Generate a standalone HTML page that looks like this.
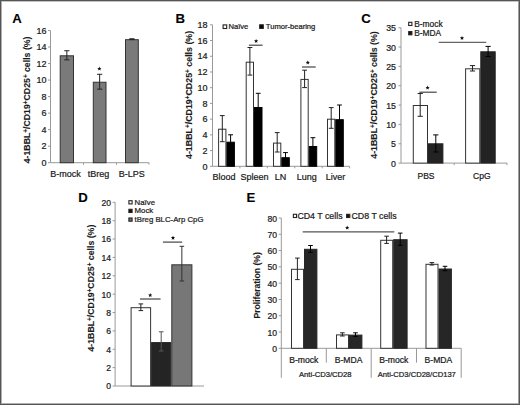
<!DOCTYPE html>
<html><head><meta charset="utf-8"><style>
html,body{margin:0;padding:0;background:#fff;}
body{width:520px;height:405px;overflow:hidden;}
svg{display:block;font-family:"Liberation Sans", sans-serif;}
text{stroke:#1a1a1a;stroke-width:0.22px;paint-order:stroke;}
text[font-weight="bold"]{stroke-width:0.1px;}
</style></head><body>
<svg width="520" height="405" viewBox="0 0 520 405">
<rect x="0" y="0" width="520" height="405" fill="#fff"/>
<text x="12.2" y="23" font-size="13.2" font-weight="bold" fill="#000">A</text>
<line x1="50.5" y1="30.5" x2="50.5" y2="162.7" stroke="#999" stroke-width="1"/>
<line x1="48" y1="162.7" x2="50.5" y2="162.7" stroke="#999" stroke-width="1"/>
<text x="46.6" y="165.94" font-size="9" text-anchor="end" fill="#1a1a1a">0</text>
<line x1="48" y1="146.17" x2="50.5" y2="146.17" stroke="#999" stroke-width="1"/>
<text x="46.6" y="149.41" font-size="9" text-anchor="end" fill="#1a1a1a">2</text>
<line x1="48" y1="129.65" x2="50.5" y2="129.65" stroke="#999" stroke-width="1"/>
<text x="46.6" y="132.89" font-size="9" text-anchor="end" fill="#1a1a1a">4</text>
<line x1="48" y1="113.12" x2="50.5" y2="113.12" stroke="#999" stroke-width="1"/>
<text x="46.6" y="116.36" font-size="9" text-anchor="end" fill="#1a1a1a">6</text>
<line x1="48" y1="96.6" x2="50.5" y2="96.6" stroke="#999" stroke-width="1"/>
<text x="46.6" y="99.84" font-size="9" text-anchor="end" fill="#1a1a1a">8</text>
<line x1="48" y1="80.07" x2="50.5" y2="80.07" stroke="#999" stroke-width="1"/>
<text x="46.6" y="83.31" font-size="9" text-anchor="end" fill="#1a1a1a">10</text>
<line x1="48" y1="63.55" x2="50.5" y2="63.55" stroke="#999" stroke-width="1"/>
<text x="46.6" y="66.79" font-size="9" text-anchor="end" fill="#1a1a1a">12</text>
<line x1="48" y1="47.03" x2="50.5" y2="47.03" stroke="#999" stroke-width="1"/>
<text x="46.6" y="50.27" font-size="9" text-anchor="end" fill="#1a1a1a">14</text>
<line x1="48" y1="30.5" x2="50.5" y2="30.5" stroke="#999" stroke-width="1"/>
<text x="46.6" y="33.74" font-size="9" text-anchor="end" fill="#1a1a1a">16</text>
<line x1="50.5" y1="162.7" x2="149" y2="162.7" stroke="#999" stroke-width="1"/>
<line x1="83.5" y1="162.7" x2="83.5" y2="164.7" stroke="#999" stroke-width="1"/>
<line x1="116.5" y1="162.7" x2="116.5" y2="164.7" stroke="#999" stroke-width="1"/>
<line x1="149" y1="162.7" x2="149" y2="164.7" stroke="#999" stroke-width="1"/>
<rect x="60.2" y="55.79" width="13.3" height="106.91" fill="#7a7a7a" stroke="#333" stroke-width="1"/>
<line x1="66.85" y1="50.74" x2="66.85" y2="59.83" stroke="#222" stroke-width="1"/>
<line x1="64.25" y1="50.74" x2="69.45" y2="50.74" stroke="#222" stroke-width="1"/>
<line x1="64.25" y1="59.83" x2="69.45" y2="59.83" stroke="#222" stroke-width="1"/>
<rect x="93.3" y="82.23" width="12.7" height="80.47" fill="#7a7a7a" stroke="#333" stroke-width="1"/>
<line x1="99.65" y1="74.29" x2="99.65" y2="89.16" stroke="#222" stroke-width="1"/>
<line x1="97.05" y1="74.29" x2="102.25" y2="74.29" stroke="#222" stroke-width="1"/>
<line x1="97.05" y1="89.16" x2="102.25" y2="89.16" stroke="#222" stroke-width="1"/>
<rect x="125.5" y="39.68" width="12.8" height="123.02" fill="#7a7a7a" stroke="#333" stroke-width="1"/>
<line x1="131.9" y1="38.76" x2="131.9" y2="39.59" stroke="#222" stroke-width="1"/>
<line x1="129.3" y1="38.76" x2="134.5" y2="38.76" stroke="#222" stroke-width="1"/>
<line x1="129.3" y1="39.59" x2="134.5" y2="39.59" stroke="#222" stroke-width="1"/>
<polygon points="99.40,66.60 99.98,68.00 101.49,68.12 100.34,69.11 100.69,70.58 99.40,69.79 98.11,70.58 98.46,69.11 97.31,68.12 98.82,68.00" fill="#111"/>
<text x="65.5" y="176.6" font-size="9" text-anchor="middle" fill="#1a1a1a">B-mock</text>
<text x="98.4" y="176.6" font-size="9" text-anchor="middle" fill="#1a1a1a">tBreg</text>
<text x="131.7" y="176.6" font-size="9" text-anchor="middle" fill="#1a1a1a">B-LPS</text>
<text x="30.2" y="99.9" font-size="8.75" font-weight="bold" text-anchor="middle" fill="#1a1a1a" transform="rotate(-90 30.2 99.9)">4-1BBL<tspan font-size="6.30" dy="-1.75">+</tspan><tspan dy="1.75">/CD19</tspan><tspan font-size="6.30" dy="-1.75">+</tspan><tspan dy="1.75">CD25</tspan><tspan font-size="6.30" dy="-1.75">+</tspan><tspan dy="1.75"> cells (%)</tspan></text>
<text x="175.6" y="22.9" font-size="13.2" font-weight="bold" fill="#000">B</text>
<line x1="212.5" y1="24.8" x2="212.5" y2="166.3" stroke="#999" stroke-width="1"/>
<line x1="210" y1="166.3" x2="212.5" y2="166.3" stroke="#999" stroke-width="1"/>
<text x="207.6" y="169.54" font-size="9" text-anchor="end" fill="#1a1a1a">0</text>
<line x1="210" y1="150.58" x2="212.5" y2="150.58" stroke="#999" stroke-width="1"/>
<text x="207.6" y="153.82" font-size="9" text-anchor="end" fill="#1a1a1a">2</text>
<line x1="210" y1="134.86" x2="212.5" y2="134.86" stroke="#999" stroke-width="1"/>
<text x="207.6" y="138.1" font-size="9" text-anchor="end" fill="#1a1a1a">4</text>
<line x1="210" y1="119.13" x2="212.5" y2="119.13" stroke="#999" stroke-width="1"/>
<text x="207.6" y="122.37" font-size="9" text-anchor="end" fill="#1a1a1a">6</text>
<line x1="210" y1="103.41" x2="212.5" y2="103.41" stroke="#999" stroke-width="1"/>
<text x="207.6" y="106.65" font-size="9" text-anchor="end" fill="#1a1a1a">8</text>
<line x1="210" y1="87.69" x2="212.5" y2="87.69" stroke="#999" stroke-width="1"/>
<text x="207.6" y="90.93" font-size="9" text-anchor="end" fill="#1a1a1a">10</text>
<line x1="210" y1="71.97" x2="212.5" y2="71.97" stroke="#999" stroke-width="1"/>
<text x="207.6" y="75.21" font-size="9" text-anchor="end" fill="#1a1a1a">12</text>
<line x1="210" y1="56.24" x2="212.5" y2="56.24" stroke="#999" stroke-width="1"/>
<text x="207.6" y="59.48" font-size="9" text-anchor="end" fill="#1a1a1a">14</text>
<line x1="210" y1="40.52" x2="212.5" y2="40.52" stroke="#999" stroke-width="1"/>
<text x="207.6" y="43.76" font-size="9" text-anchor="end" fill="#1a1a1a">16</text>
<line x1="210" y1="24.8" x2="212.5" y2="24.8" stroke="#999" stroke-width="1"/>
<text x="207.6" y="28.04" font-size="9" text-anchor="end" fill="#1a1a1a">18</text>
<line x1="212.5" y1="166.3" x2="349.6" y2="166.3" stroke="#999" stroke-width="1"/>
<line x1="239.92" y1="166.3" x2="239.92" y2="168.3" stroke="#999" stroke-width="1"/>
<line x1="267.34" y1="166.3" x2="267.34" y2="168.3" stroke="#999" stroke-width="1"/>
<line x1="294.76" y1="166.3" x2="294.76" y2="168.3" stroke="#999" stroke-width="1"/>
<line x1="322.18" y1="166.3" x2="322.18" y2="168.3" stroke="#999" stroke-width="1"/>
<line x1="349.6" y1="166.3" x2="349.6" y2="168.3" stroke="#999" stroke-width="1"/>
<rect x="218.6" y="129.2" width="7.3" height="37.1" fill="#fff" stroke="#333" stroke-width="1"/>
<rect x="226.9" y="142.2" width="7.5" height="24.1" fill="#000" stroke="#000" stroke-width="1"/>
<line x1="222.3" y1="115.6" x2="222.3" y2="141.7" stroke="#222" stroke-width="1"/>
<line x1="219.9" y1="115.6" x2="224.7" y2="115.6" stroke="#222" stroke-width="1"/>
<line x1="219.9" y1="141.7" x2="224.7" y2="141.7" stroke="#222" stroke-width="1"/>
<line x1="230.6" y1="134.8" x2="230.6" y2="148.6" stroke="#000" stroke-width="1"/>
<line x1="228.2" y1="134.8" x2="233" y2="134.8" stroke="#000" stroke-width="1"/>
<line x1="228.2" y1="148.6" x2="233" y2="148.6" stroke="#000" stroke-width="1"/>
<rect x="246.2" y="62.2" width="7.3" height="104.1" fill="#fff" stroke="#333" stroke-width="1"/>
<rect x="254.5" y="107.5" width="7.5" height="58.8" fill="#000" stroke="#000" stroke-width="1"/>
<line x1="249.9" y1="47.5" x2="249.9" y2="75.1" stroke="#222" stroke-width="1"/>
<line x1="247.5" y1="47.5" x2="252.3" y2="47.5" stroke="#222" stroke-width="1"/>
<line x1="247.5" y1="75.1" x2="252.3" y2="75.1" stroke="#222" stroke-width="1"/>
<line x1="258.2" y1="93.3" x2="258.2" y2="120.7" stroke="#000" stroke-width="1"/>
<line x1="255.8" y1="93.3" x2="260.6" y2="93.3" stroke="#000" stroke-width="1"/>
<line x1="255.8" y1="120.7" x2="260.6" y2="120.7" stroke="#000" stroke-width="1"/>
<rect x="273.5" y="143.1" width="7.3" height="23.2" fill="#fff" stroke="#333" stroke-width="1"/>
<rect x="281.8" y="157.7" width="7.5" height="8.6" fill="#000" stroke="#000" stroke-width="1"/>
<line x1="277.2" y1="132.6" x2="277.2" y2="152" stroke="#222" stroke-width="1"/>
<line x1="274.8" y1="132.6" x2="279.6" y2="132.6" stroke="#222" stroke-width="1"/>
<line x1="274.8" y1="152" x2="279.6" y2="152" stroke="#222" stroke-width="1"/>
<line x1="285.5" y1="152.6" x2="285.5" y2="161.8" stroke="#000" stroke-width="1"/>
<line x1="283.1" y1="152.6" x2="287.9" y2="152.6" stroke="#000" stroke-width="1"/>
<line x1="283.1" y1="161.8" x2="287.9" y2="161.8" stroke="#000" stroke-width="1"/>
<rect x="300.9" y="79.4" width="7.3" height="86.9" fill="#fff" stroke="#333" stroke-width="1"/>
<rect x="309.2" y="146.5" width="7.5" height="19.8" fill="#000" stroke="#000" stroke-width="1"/>
<line x1="304.6" y1="70.2" x2="304.6" y2="87.6" stroke="#222" stroke-width="1"/>
<line x1="302.2" y1="70.2" x2="307" y2="70.2" stroke="#222" stroke-width="1"/>
<line x1="302.2" y1="87.6" x2="307" y2="87.6" stroke="#222" stroke-width="1"/>
<line x1="312.9" y1="137.7" x2="312.9" y2="154.3" stroke="#000" stroke-width="1"/>
<line x1="310.5" y1="137.7" x2="315.3" y2="137.7" stroke="#000" stroke-width="1"/>
<line x1="310.5" y1="154.3" x2="315.3" y2="154.3" stroke="#000" stroke-width="1"/>
<rect x="327.5" y="119.2" width="7.3" height="47.1" fill="#fff" stroke="#333" stroke-width="1"/>
<rect x="335.8" y="119.7" width="7.5" height="46.6" fill="#000" stroke="#000" stroke-width="1"/>
<line x1="331.2" y1="107.6" x2="331.2" y2="128.3" stroke="#222" stroke-width="1"/>
<line x1="328.8" y1="107.6" x2="333.6" y2="107.6" stroke="#222" stroke-width="1"/>
<line x1="328.8" y1="128.3" x2="333.6" y2="128.3" stroke="#222" stroke-width="1"/>
<line x1="339.5" y1="105" x2="339.5" y2="133.4" stroke="#000" stroke-width="1"/>
<line x1="337.1" y1="105" x2="341.9" y2="105" stroke="#000" stroke-width="1"/>
<line x1="337.1" y1="133.4" x2="341.9" y2="133.4" stroke="#000" stroke-width="1"/>
<line x1="248.9" y1="45.2" x2="262.6" y2="45.2" stroke="#444" stroke-width="1.2"/>
<polygon points="256.10,38.90 256.68,40.30 258.19,40.42 257.04,41.41 257.39,42.88 256.10,42.09 254.81,42.88 255.16,41.41 254.01,40.42 255.52,40.30" fill="#111"/>
<line x1="302" y1="67" x2="315.7" y2="67" stroke="#444" stroke-width="1.2"/>
<polygon points="307.80,60.40 308.38,61.80 309.89,61.92 308.74,62.91 309.09,64.38 307.80,63.59 306.51,64.38 306.86,62.91 305.71,61.92 307.22,61.80" fill="#111"/>
<text x="223.9" y="180.2" font-size="9" text-anchor="middle" fill="#1a1a1a">Blood</text>
<text x="254.5" y="180.2" font-size="9" text-anchor="middle" fill="#1a1a1a">Spleen</text>
<text x="280.6" y="180.2" font-size="9" text-anchor="middle" fill="#1a1a1a">LN</text>
<text x="306.8" y="180.2" font-size="9" text-anchor="middle" fill="#1a1a1a">Lung</text>
<text x="335.4" y="180.2" font-size="9" text-anchor="middle" fill="#1a1a1a">Liver</text>
<rect x="223.1" y="24.9" width="3.6" height="3.6" fill="#fff" stroke="#222" stroke-width="1.1"/>
<text x="228.5" y="29.2" font-size="7.6" fill="#1a1a1a">Na&#239;ve</text>
<rect x="259.7" y="24.8" width="3.6" height="3.6" fill="#000" stroke="#222" stroke-width="1.1"/>
<text x="265.8" y="29.2" font-size="7.6" fill="#1a1a1a">Tumor-bearing</text>
<text x="191.8" y="94.9" font-size="8.85" font-weight="bold" text-anchor="middle" fill="#1a1a1a" transform="rotate(-90 191.8 94.9)">4-1BBL<tspan font-size="6.37" dy="-1.77">+</tspan><tspan dy="1.77">/CD19</tspan><tspan font-size="6.37" dy="-1.77">+</tspan><tspan dy="1.77">CD25</tspan><tspan font-size="6.37" dy="-1.77">+</tspan><tspan dy="1.77"> cells (%)</tspan></text>
<text x="361.2" y="23" font-size="13.2" font-weight="bold" fill="#000">C</text>
<line x1="401" y1="27.7" x2="401" y2="163.1" stroke="#999" stroke-width="1"/>
<line x1="398.5" y1="163.1" x2="401" y2="163.1" stroke="#999" stroke-width="1"/>
<text x="396" y="166.62" font-size="8.8" text-anchor="end" fill="#1a1a1a">0</text>
<line x1="398.5" y1="143.76" x2="401" y2="143.76" stroke="#999" stroke-width="1"/>
<text x="396" y="147.28" font-size="8.8" text-anchor="end" fill="#1a1a1a">5</text>
<line x1="398.5" y1="124.41" x2="401" y2="124.41" stroke="#999" stroke-width="1"/>
<text x="396" y="127.93" font-size="8.8" text-anchor="end" fill="#1a1a1a">10</text>
<line x1="398.5" y1="105.07" x2="401" y2="105.07" stroke="#999" stroke-width="1"/>
<text x="396" y="108.59" font-size="8.8" text-anchor="end" fill="#1a1a1a">15</text>
<line x1="398.5" y1="85.73" x2="401" y2="85.73" stroke="#999" stroke-width="1"/>
<text x="396" y="89.25" font-size="8.8" text-anchor="end" fill="#1a1a1a">20</text>
<line x1="398.5" y1="66.39" x2="401" y2="66.39" stroke="#999" stroke-width="1"/>
<text x="396" y="69.91" font-size="8.8" text-anchor="end" fill="#1a1a1a">25</text>
<line x1="398.5" y1="47.04" x2="401" y2="47.04" stroke="#999" stroke-width="1"/>
<text x="396" y="50.56" font-size="8.8" text-anchor="end" fill="#1a1a1a">30</text>
<line x1="398.5" y1="27.7" x2="401" y2="27.7" stroke="#999" stroke-width="1"/>
<text x="396" y="31.22" font-size="8.8" text-anchor="end" fill="#1a1a1a">35</text>
<line x1="401" y1="163.1" x2="507" y2="163.1" stroke="#999" stroke-width="1"/>
<line x1="454.2" y1="163.1" x2="454.2" y2="165.1" stroke="#999" stroke-width="1"/>
<line x1="507" y1="163.1" x2="507" y2="165.1" stroke="#999" stroke-width="1"/>
<rect x="413.3" y="105.5" width="14.2" height="57.6" fill="#fff" stroke="#333" stroke-width="1"/>
<rect x="428.5" y="143.8" width="14.4" height="19.3" fill="#232323" stroke="#232323" stroke-width="1"/>
<line x1="420.2" y1="93.5" x2="420.2" y2="116.3" stroke="#222" stroke-width="1"/>
<line x1="417.6" y1="93.5" x2="422.8" y2="93.5" stroke="#222" stroke-width="1"/>
<line x1="417.6" y1="116.3" x2="422.8" y2="116.3" stroke="#222" stroke-width="1"/>
<line x1="435.8" y1="134.9" x2="435.8" y2="152" stroke="#000" stroke-width="1"/>
<line x1="433.2" y1="134.9" x2="438.4" y2="134.9" stroke="#000" stroke-width="1"/>
<line x1="433.2" y1="152" x2="438.4" y2="152" stroke="#000" stroke-width="1"/>
<rect x="465.6" y="68.8" width="14.2" height="94.3" fill="#fff" stroke="#333" stroke-width="1"/>
<rect x="480.8" y="51.8" width="14.4" height="111.3" fill="#232323" stroke="#232323" stroke-width="1"/>
<line x1="472.5" y1="65.6" x2="472.5" y2="71" stroke="#222" stroke-width="1"/>
<line x1="469.9" y1="65.6" x2="475.1" y2="65.6" stroke="#222" stroke-width="1"/>
<line x1="469.9" y1="71" x2="475.1" y2="71" stroke="#222" stroke-width="1"/>
<line x1="488.1" y1="46.4" x2="488.1" y2="56.6" stroke="#000" stroke-width="1"/>
<line x1="485.5" y1="46.4" x2="490.7" y2="46.4" stroke="#000" stroke-width="1"/>
<line x1="485.5" y1="56.6" x2="490.7" y2="56.6" stroke="#000" stroke-width="1"/>
<line x1="419.4" y1="92.2" x2="436.7" y2="92.2" stroke="#444" stroke-width="1.2"/>
<polygon points="427.60,85.60 428.18,87.00 429.69,87.12 428.54,88.11 428.89,89.58 427.60,88.79 426.31,89.58 426.66,88.11 425.51,87.12 427.02,87.00" fill="#111"/>
<line x1="438.7" y1="42.4" x2="486.3" y2="42.4" stroke="#666" stroke-width="1.3"/>
<polygon points="462.00,35.90 462.58,37.30 464.09,37.42 462.94,38.41 463.29,39.88 462.00,39.09 460.71,39.88 461.06,38.41 459.91,37.42 461.42,37.30" fill="#111"/>
<text x="426" y="178.6" font-size="8.5" text-anchor="middle" fill="#1a1a1a">PBS</text>
<text x="481.8" y="178.6" font-size="8.5" text-anchor="middle" fill="#1a1a1a">CpG</text>
<rect x="408.7" y="22.3" width="3.2" height="3.2" fill="#fff" stroke="#222" stroke-width="1.1"/>
<text x="414.2" y="26.6" font-size="8.4" fill="#1a1a1a">B-mock</text>
<rect x="408.7" y="31.6" width="3.2" height="3.2" fill="#111" stroke="#222" stroke-width="1.1"/>
<text x="414.2" y="35.9" font-size="8.4" fill="#1a1a1a">B-MDA</text>
<text x="376.5" y="95" font-size="8.8" font-weight="bold" text-anchor="middle" fill="#1a1a1a" transform="rotate(-90 376.5 95)">4-1BBL<tspan font-size="6.34" dy="-1.76">+</tspan><tspan dy="1.76">/CD19</tspan><tspan font-size="6.34" dy="-1.76">+</tspan><tspan dy="1.76">CD25</tspan><tspan font-size="6.34" dy="-1.76">+</tspan><tspan dy="1.76"> cells (%)</tspan></text>
<text x="78.2" y="202.2" font-size="13.2" font-weight="bold" fill="#000">D</text>
<line x1="115.1" y1="202.3" x2="115.1" y2="386" stroke="#999" stroke-width="1"/>
<line x1="112.6" y1="386" x2="115.1" y2="386" stroke="#999" stroke-width="1"/>
<text x="111.1" y="389.35" font-size="8.6" text-anchor="end" fill="#1a1a1a">0</text>
<line x1="112.6" y1="367.63" x2="115.1" y2="367.63" stroke="#999" stroke-width="1"/>
<text x="111.1" y="370.98" font-size="8.6" text-anchor="end" fill="#1a1a1a">2</text>
<line x1="112.6" y1="349.26" x2="115.1" y2="349.26" stroke="#999" stroke-width="1"/>
<text x="111.1" y="352.61" font-size="8.6" text-anchor="end" fill="#1a1a1a">4</text>
<line x1="112.6" y1="330.89" x2="115.1" y2="330.89" stroke="#999" stroke-width="1"/>
<text x="111.1" y="334.24" font-size="8.6" text-anchor="end" fill="#1a1a1a">6</text>
<line x1="112.6" y1="312.52" x2="115.1" y2="312.52" stroke="#999" stroke-width="1"/>
<text x="111.1" y="315.87" font-size="8.6" text-anchor="end" fill="#1a1a1a">8</text>
<line x1="112.6" y1="294.15" x2="115.1" y2="294.15" stroke="#999" stroke-width="1"/>
<text x="111.1" y="297.5" font-size="8.6" text-anchor="end" fill="#1a1a1a">10</text>
<line x1="112.6" y1="275.78" x2="115.1" y2="275.78" stroke="#999" stroke-width="1"/>
<text x="111.1" y="279.13" font-size="8.6" text-anchor="end" fill="#1a1a1a">12</text>
<line x1="112.6" y1="257.41" x2="115.1" y2="257.41" stroke="#999" stroke-width="1"/>
<text x="111.1" y="260.76" font-size="8.6" text-anchor="end" fill="#1a1a1a">14</text>
<line x1="112.6" y1="239.04" x2="115.1" y2="239.04" stroke="#999" stroke-width="1"/>
<text x="111.1" y="242.39" font-size="8.6" text-anchor="end" fill="#1a1a1a">16</text>
<line x1="112.6" y1="220.67" x2="115.1" y2="220.67" stroke="#999" stroke-width="1"/>
<text x="111.1" y="224.02" font-size="8.6" text-anchor="end" fill="#1a1a1a">18</text>
<line x1="112.6" y1="202.3" x2="115.1" y2="202.3" stroke="#999" stroke-width="1"/>
<text x="111.1" y="205.65" font-size="8.6" text-anchor="end" fill="#1a1a1a">20</text>
<line x1="115.1" y1="386" x2="204" y2="386" stroke="#999" stroke-width="1"/>
<rect x="131.1" y="307.7" width="19.5" height="78.3" fill="#fff" stroke="#333" stroke-width="1"/>
<line x1="140.85" y1="303.9" x2="140.85" y2="310.6" stroke="#222" stroke-width="1"/>
<line x1="138.55" y1="303.9" x2="143.15" y2="303.9" stroke="#222" stroke-width="1"/>
<line x1="138.55" y1="310.6" x2="143.15" y2="310.6" stroke="#222" stroke-width="1"/>
<rect x="151.6" y="342.6" width="19.2" height="43.4" fill="#242424" stroke="#242424" stroke-width="1"/>
<line x1="161.2" y1="331.8" x2="161.2" y2="351" stroke="#555" stroke-width="1"/>
<line x1="158.9" y1="331.8" x2="163.5" y2="331.8" stroke="#555" stroke-width="1"/>
<line x1="158.9" y1="351" x2="163.5" y2="351" stroke="#555" stroke-width="1"/>
<rect x="171.8" y="264.8" width="20.1" height="121.2" fill="#777" stroke="#333" stroke-width="1"/>
<line x1="181.85" y1="246.3" x2="181.85" y2="281" stroke="#333" stroke-width="1"/>
<line x1="179.55" y1="246.3" x2="184.15" y2="246.3" stroke="#333" stroke-width="1"/>
<line x1="179.55" y1="281" x2="184.15" y2="281" stroke="#333" stroke-width="1"/>
<line x1="140" y1="299" x2="160.6" y2="299" stroke="#444" stroke-width="1.2"/>
<polygon points="150.20,293.00 150.78,294.40 152.29,294.52 151.14,295.51 151.49,296.98 150.20,296.19 148.91,296.98 149.26,295.51 148.11,294.52 149.62,294.40" fill="#111"/>
<line x1="162.9" y1="242.1" x2="182.2" y2="242.1" stroke="#444" stroke-width="1.2"/>
<polygon points="173.00,235.70 173.58,237.10 175.09,237.22 173.94,238.21 174.29,239.68 173.00,238.89 171.71,239.68 172.06,238.21 170.91,237.22 172.42,237.10" fill="#111"/>
<rect x="128.9" y="200.7" width="3.2" height="3.2" fill="#fff" stroke="#222" stroke-width="1.1"/>
<text x="134.6" y="204.7" font-size="7.8" fill="#1a1a1a">Na&#239;ve</text>
<rect x="128.9" y="209.3" width="3.2" height="3.2" fill="#111" stroke="#222" stroke-width="1.1"/>
<text x="134.6" y="213.3" font-size="7.8" fill="#1a1a1a">Mock</text>
<rect x="128.9" y="218" width="3.2" height="3.2" fill="#777" stroke="#222" stroke-width="1.1"/>
<text x="134.6" y="222" font-size="7.8" fill="#1a1a1a">tBreg BLC-Arp CpG</text>
<text x="94" y="288.1" font-size="8.75" font-weight="bold" text-anchor="middle" fill="#1a1a1a" transform="rotate(-90 94 288.1)">4-1BBL<tspan font-size="6.30" dy="-1.75">+</tspan><tspan dy="1.75">/CD19</tspan><tspan font-size="6.30" dy="-1.75">+</tspan><tspan dy="1.75">CD25</tspan><tspan font-size="6.30" dy="-1.75">+</tspan><tspan dy="1.75"> cells (%)</tspan></text>
<text x="246.4" y="202.2" font-size="13.2" font-weight="bold" fill="#000">E</text>
<line x1="281.3" y1="218" x2="281.3" y2="348.3" stroke="#999" stroke-width="1"/>
<line x1="278.8" y1="348.3" x2="281.3" y2="348.3" stroke="#999" stroke-width="1"/>
<text x="277" y="351.83" font-size="8.6" text-anchor="end" fill="#1a1a1a">0</text>
<line x1="278.8" y1="332.01" x2="281.3" y2="332.01" stroke="#999" stroke-width="1"/>
<text x="277" y="335.54" font-size="8.6" text-anchor="end" fill="#1a1a1a">10</text>
<line x1="278.8" y1="315.73" x2="281.3" y2="315.73" stroke="#999" stroke-width="1"/>
<text x="277" y="319.25" font-size="8.6" text-anchor="end" fill="#1a1a1a">20</text>
<line x1="278.8" y1="299.44" x2="281.3" y2="299.44" stroke="#999" stroke-width="1"/>
<text x="277" y="302.96" font-size="8.6" text-anchor="end" fill="#1a1a1a">30</text>
<line x1="278.8" y1="283.15" x2="281.3" y2="283.15" stroke="#999" stroke-width="1"/>
<text x="277" y="286.68" font-size="8.6" text-anchor="end" fill="#1a1a1a">40</text>
<line x1="278.8" y1="266.86" x2="281.3" y2="266.86" stroke="#999" stroke-width="1"/>
<text x="277" y="270.39" font-size="8.6" text-anchor="end" fill="#1a1a1a">50</text>
<line x1="278.8" y1="250.57" x2="281.3" y2="250.57" stroke="#999" stroke-width="1"/>
<text x="277" y="254.1" font-size="8.6" text-anchor="end" fill="#1a1a1a">60</text>
<line x1="278.8" y1="234.29" x2="281.3" y2="234.29" stroke="#999" stroke-width="1"/>
<text x="277" y="237.81" font-size="8.6" text-anchor="end" fill="#1a1a1a">70</text>
<line x1="278.8" y1="218" x2="281.3" y2="218" stroke="#999" stroke-width="1"/>
<text x="277" y="221.53" font-size="8.6" text-anchor="end" fill="#1a1a1a">80</text>
<line x1="281.3" y1="348.3" x2="461.2" y2="348.3" stroke="#999" stroke-width="1"/>
<line x1="281.3" y1="348.3" x2="281.3" y2="377.8" stroke="#999" stroke-width="1"/>
<line x1="326.3" y1="348.3" x2="326.3" y2="362.6" stroke="#999" stroke-width="1"/>
<line x1="416.5" y1="348.3" x2="416.5" y2="362.6" stroke="#999" stroke-width="1"/>
<line x1="371.2" y1="348.3" x2="371.2" y2="377.8" stroke="#999" stroke-width="1"/>
<line x1="461.2" y1="348.3" x2="461.2" y2="377.8" stroke="#999" stroke-width="1"/>
<rect x="291.5" y="269.3" width="12" height="79" fill="#fff" stroke="#333" stroke-width="1"/>
<rect x="304.5" y="249.3" width="12.4" height="99" fill="#262626" stroke="#262626" stroke-width="1"/>
<line x1="297.4" y1="258.1" x2="297.4" y2="279.6" stroke="#222" stroke-width="1"/>
<line x1="295.1" y1="258.1" x2="299.7" y2="258.1" stroke="#222" stroke-width="1"/>
<line x1="295.1" y1="279.6" x2="299.7" y2="279.6" stroke="#222" stroke-width="1"/>
<line x1="310.5" y1="245.5" x2="310.5" y2="252.3" stroke="#000" stroke-width="1"/>
<line x1="308.2" y1="245.5" x2="312.8" y2="245.5" stroke="#000" stroke-width="1"/>
<line x1="308.2" y1="252.3" x2="312.8" y2="252.3" stroke="#000" stroke-width="1"/>
<rect x="336.5" y="334.9" width="12" height="13.4" fill="#fff" stroke="#333" stroke-width="1"/>
<rect x="349.5" y="335.1" width="12.4" height="13.2" fill="#262626" stroke="#262626" stroke-width="1"/>
<line x1="342.4" y1="332.8" x2="342.4" y2="336" stroke="#222" stroke-width="1"/>
<line x1="340.1" y1="332.8" x2="344.7" y2="332.8" stroke="#222" stroke-width="1"/>
<line x1="340.1" y1="336" x2="344.7" y2="336" stroke="#222" stroke-width="1"/>
<line x1="355.5" y1="332.8" x2="355.5" y2="336.4" stroke="#000" stroke-width="1"/>
<line x1="353.2" y1="332.8" x2="357.8" y2="332.8" stroke="#000" stroke-width="1"/>
<line x1="353.2" y1="336.4" x2="357.8" y2="336.4" stroke="#000" stroke-width="1"/>
<rect x="380.7" y="240.3" width="12" height="108" fill="#fff" stroke="#333" stroke-width="1"/>
<rect x="393.7" y="239.7" width="13.4" height="108.6" fill="#262626" stroke="#262626" stroke-width="1"/>
<line x1="386.6" y1="236.2" x2="386.6" y2="243.4" stroke="#222" stroke-width="1"/>
<line x1="384.3" y1="236.2" x2="388.9" y2="236.2" stroke="#222" stroke-width="1"/>
<line x1="384.3" y1="243.4" x2="388.9" y2="243.4" stroke="#222" stroke-width="1"/>
<line x1="400.2" y1="233.1" x2="400.2" y2="245.3" stroke="#000" stroke-width="1"/>
<line x1="397.9" y1="233.1" x2="402.5" y2="233.1" stroke="#000" stroke-width="1"/>
<line x1="397.9" y1="245.3" x2="402.5" y2="245.3" stroke="#000" stroke-width="1"/>
<rect x="426" y="264.3" width="12" height="84" fill="#fff" stroke="#333" stroke-width="1"/>
<rect x="439" y="269" width="12.4" height="79.3" fill="#262626" stroke="#262626" stroke-width="1"/>
<line x1="431.9" y1="262.6" x2="431.9" y2="265" stroke="#222" stroke-width="1"/>
<line x1="429.6" y1="262.6" x2="434.2" y2="262.6" stroke="#222" stroke-width="1"/>
<line x1="429.6" y1="265" x2="434.2" y2="265" stroke="#222" stroke-width="1"/>
<line x1="445" y1="266.3" x2="445" y2="270.7" stroke="#000" stroke-width="1"/>
<line x1="442.7" y1="266.3" x2="447.3" y2="266.3" stroke="#000" stroke-width="1"/>
<line x1="442.7" y1="270.7" x2="447.3" y2="270.7" stroke="#000" stroke-width="1"/>
<line x1="302.7" y1="231.8" x2="394.3" y2="231.8" stroke="#555" stroke-width="1.2"/>
<polygon points="347.20,225.60 347.78,227.00 349.29,227.12 348.14,228.11 348.49,229.58 347.20,228.79 345.91,229.58 346.26,228.11 345.11,227.12 346.62,227.00" fill="#111"/>
<text x="303.8" y="362.6" font-size="8.6" text-anchor="middle" fill="#1a1a1a">B-mock</text>
<text x="348.6" y="362.6" font-size="8.6" text-anchor="middle" fill="#1a1a1a">B-MDA</text>
<text x="393.8" y="362.6" font-size="8.6" text-anchor="middle" fill="#1a1a1a">B-mock</text>
<text x="438.4" y="362.6" font-size="8.6" text-anchor="middle" fill="#1a1a1a">B-MDA</text>
<text x="325.3" y="377.1" font-size="7.65" text-anchor="middle" fill="#1a1a1a">Anti-CD3/CD28</text>
<text x="416.8" y="377.1" font-size="7.6" text-anchor="middle" fill="#1a1a1a">Anti-CD3/CD28/CD137</text>
<rect x="293.4" y="214.3" width="3.2" height="3.2" fill="#fff" stroke="#222" stroke-width="1.1"/>
<text x="297.4" y="219" font-size="8.8" fill="#1a1a1a">CD4 T cells</text>
<rect x="346.6" y="214.3" width="3.2" height="3.2" fill="#111" stroke="#222" stroke-width="1.1"/>
<text x="351.5" y="219" font-size="8.8" fill="#1a1a1a">CD8 T cells</text>
<text x="260.4" y="285.3" font-size="8.6" font-weight="bold" text-anchor="middle" fill="#1a1a1a" transform="rotate(-90 260.4 285.3)">Proliferation (%)</text>
<g shape-rendering="crispEdges">
<rect x="0" y="1" width="520" height="1" fill="#c4c4c4"/>
<rect x="0" y="403" width="520" height="1" fill="#b0b0b0"/>
<rect x="1" y="0" width="1" height="405" fill="#b0b0b0"/>
<rect x="518" y="0" width="1" height="405" fill="#a0a0a0"/>
<rect x="0" y="0" width="520" height="1" fill="#555"/>
<rect x="0" y="404" width="520" height="1" fill="#555"/>
<rect x="0" y="0" width="1" height="405" fill="#555"/>
<rect x="519" y="0" width="1" height="405" fill="#555"/>
</g>
</svg>
</body></html>
